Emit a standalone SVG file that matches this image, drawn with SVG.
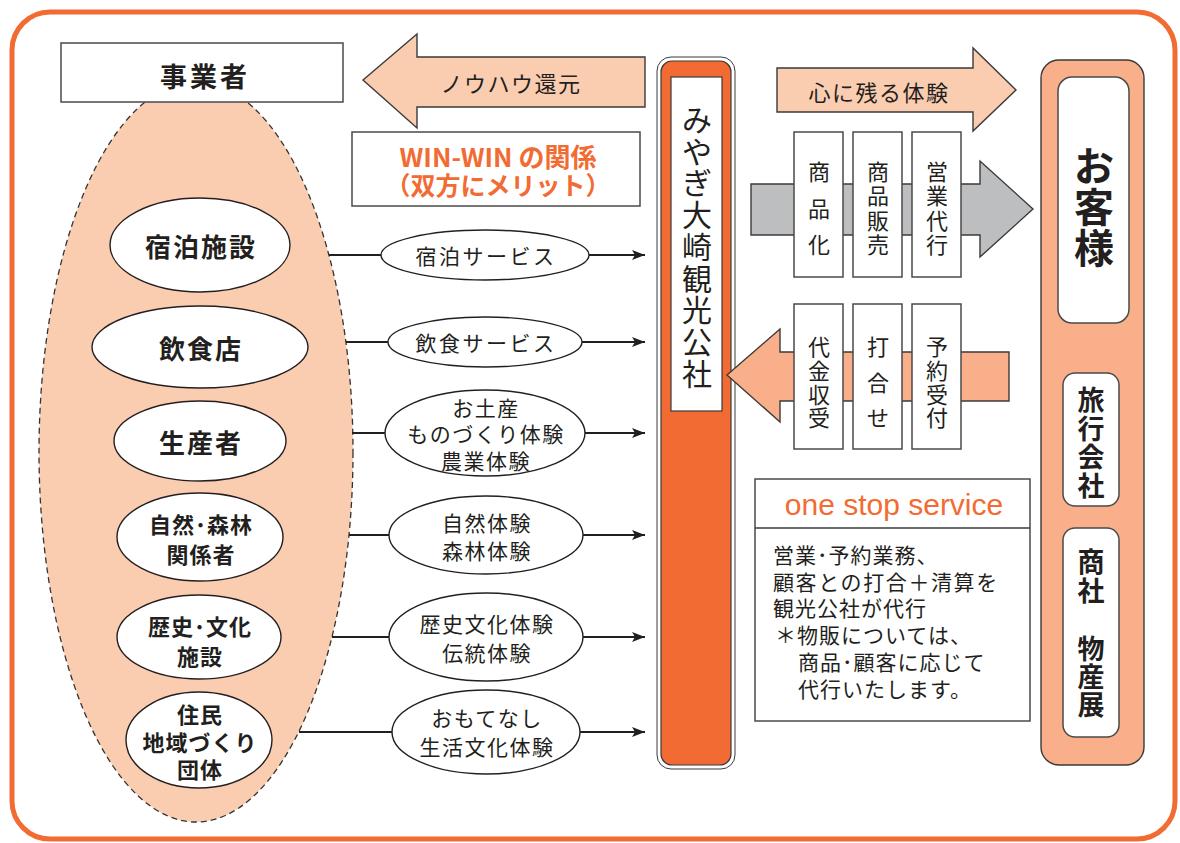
<svg xmlns="http://www.w3.org/2000/svg" width="1180" height="843" viewBox="0 0 1180 843">
<defs>
<style>
text{font-family:"Noto Sans CJK JP","Noto Sans",sans-serif;fill:#231f20;}
.b{font-weight:bold;}
.c{text-anchor:middle;dominant-baseline:central;}
.wbox{fill:#fff;stroke:#4a4a4a;stroke-width:1.5;}
.ell{fill:#fff;stroke:#231f20;stroke-width:1.4;}
.conn{stroke:#231f20;stroke-width:2;fill:none;}
.peach{fill:#fbcdb0;stroke:#3a3a3a;stroke-width:1.4;}
.salmon{fill:#f9b08a;stroke:#3a3a3a;stroke-width:1.4;}
.or{fill:#f26b33;}
.v22{font-size:22px;}
</style>
<marker id="ah" markerUnits="userSpaceOnUse" markerWidth="14" markerHeight="12" refX="13" refY="6" orient="auto">
<path d="M0,1 L13,6 L0,11 L3,6 z" fill="#231f20"/>
</marker>
</defs>
<rect width="1180" height="843" fill="#fff"/>
<rect x="12" y="12" width="1163" height="827" rx="38" fill="none" stroke="#f26b33" stroke-width="5"/>

<g id="jigyosha-group">
<ellipse cx="196" cy="452" rx="157" ry="370" fill="#fbcdb0" stroke="#333" stroke-width="1.3" stroke-dasharray="6 4"/>
</g>
<g id="jigyosha">
<rect class="wbox" x="61" y="43" width="282" height="59"/>
<text class="c b" x="205" y="75" font-size="27" letter-spacing="3">事業者</text>
</g>

<g id="shukuhaku-shisetsu"><ellipse class="ell" cx="200" cy="245" rx="90" ry="47"/><text class="c b" x="201" y="245" font-size="26" letter-spacing="2">宿泊施設</text></g>
<g id="inshokuten"><ellipse class="ell" cx="200" cy="347" rx="108" ry="41"/><text class="c b" x="201" y="347" font-size="26" letter-spacing="2">飲食店</text></g>
<g id="seisansha"><ellipse class="ell" cx="200" cy="441" rx="86" ry="40"/><text class="c b" x="201" y="441" font-size="26" letter-spacing="2">生産者</text></g>
<g id="shizen-shinrin"><ellipse class="ell" cx="200" cy="537" rx="83" ry="44"/><text class="c b" x="201" y="523" font-size="22" letter-spacing="1">自然･森林</text><text class="c b" x="201" y="553" font-size="22" letter-spacing="1">関係者</text></g>
<g id="rekishi-bunka"><ellipse class="ell" cx="199" cy="637" rx="82" ry="42"/><text class="c b" x="200" y="625" font-size="22" letter-spacing="1">歴史･文化</text><text class="c b" x="200" y="655" font-size="22" letter-spacing="1">施設</text></g>
<g id="jumin"><ellipse class="ell" cx="199" cy="740" rx="73" ry="48"/><text class="c b" x="200" y="713" font-size="22" letter-spacing="1">住民</text><text class="c b" x="200" y="741" font-size="22" letter-spacing="1">地域づくり</text><text class="c b" x="200" y="768" font-size="22" letter-spacing="1">団体</text></g>

<g id="connectors">
<line class="conn" x1="329" y1="255" x2="381" y2="255"/><line class="conn" x1="589" y1="255" x2="645" y2="255" marker-end="url(#ah)"/>
<line class="conn" x1="346" y1="342" x2="388" y2="342"/><line class="conn" x1="582" y1="342" x2="645" y2="342" marker-end="url(#ah)"/>
<line class="conn" x1="352" y1="433" x2="385" y2="433"/><line class="conn" x1="585" y1="433" x2="645" y2="433" marker-end="url(#ah)"/>
<line class="conn" x1="349" y1="535" x2="389" y2="535"/><line class="conn" x1="583" y1="535" x2="645" y2="535" marker-end="url(#ah)"/>
<line class="conn" x1="332" y1="637" x2="389" y2="637"/><line class="conn" x1="583" y1="637" x2="645" y2="637" marker-end="url(#ah)"/>
<line class="conn" x1="299" y1="732" x2="392" y2="732"/><line class="conn" x1="580" y1="732" x2="645" y2="732" marker-end="url(#ah)"/>
</g>

<g id="svc-shukuhaku"><ellipse class="ell" cx="485" cy="255" rx="104" ry="25"/><text class="c" x="486" y="255" font-size="21" letter-spacing="2.5">宿泊サービス</text></g>
<g id="svc-inshoku"><ellipse class="ell" cx="485" cy="342" rx="97" ry="25"/><text class="c" x="486" y="342" font-size="21" letter-spacing="2.5">飲食サービス</text></g>
<g id="svc-omiyage"><ellipse class="ell" cx="485" cy="433" rx="100" ry="43"/><text class="c" x="486" y="407" font-size="21" letter-spacing="1.5">お土産</text><text class="c" x="486" y="433" font-size="21" letter-spacing="1.5">ものづくり体験</text><text class="c" x="486" y="460" font-size="21" letter-spacing="1.5">農業体験</text></g>
<g id="svc-shizen"><ellipse class="ell" cx="486" cy="535" rx="97" ry="39"/><text class="c" x="487" y="522" font-size="21" letter-spacing="1.5">自然体験</text><text class="c" x="487" y="550" font-size="21" letter-spacing="1.5">森林体験</text></g>
<g id="svc-rekishi"><ellipse class="ell" cx="486" cy="637" rx="97" ry="44"/><text class="c" x="487" y="623" font-size="21" letter-spacing="1.5">歴史文化体験</text><text class="c" x="487" y="652" font-size="21" letter-spacing="1.5">伝統体験</text></g>
<g id="svc-omotenashi"><ellipse class="ell" cx="486" cy="732" rx="94" ry="42"/><text class="c" x="487" y="717" font-size="21" letter-spacing="1.5">おもてなし</text><text class="c" x="487" y="746" font-size="21" letter-spacing="1.5">生活文化体験</text></g>

<g id="knowhow-arrow">
<polygon class="peach" points="363,80 417,34 417,57 645,57 645,107 417,107 417,128"/>
<text class="c" x="511" y="82" font-size="22" letter-spacing="1.5">ノウハウ還元</text>
</g>

<g id="winwin">
<rect class="wbox" x="352" y="132" width="288" height="74"/>
<text class="c b" x="498" y="155" font-size="26" style="fill:#f26b33">WIN-WIN の関係</text>
<text class="c b" x="498" y="184" font-size="25" style="fill:#f26b33">（双方にメリット）</text>
</g>

<g id="kanko-kosha">
<rect x="657" y="57" width="78" height="712" rx="14" fill="#fff" stroke="#3a3a3a" stroke-width="1"/>
<rect x="661" y="61" width="70" height="704" rx="11" class="or" stroke="#3a3a3a" stroke-width="1.2"/>
<rect x="671" y="77" width="51" height="334" fill="#fff" stroke="#3a3a3a" stroke-width="1.2"/>
<text class="c" x="697" y="118" font-size="30">み</text>
<text class="c" x="697" y="150" font-size="30">や</text>
<text class="c" x="697" y="181" font-size="30">ぎ</text>
<text class="c" x="697" y="213" font-size="30">大</text>
<text class="c" x="697" y="245" font-size="30">崎</text>
<text class="c" x="697" y="277" font-size="30">観</text>
<text class="c" x="697" y="308" font-size="30">光</text>
<text class="c" x="697" y="340" font-size="30">公</text>
<text class="c" x="697" y="372" font-size="30">社</text>
</g>

<g id="kokoro-arrow">
<polygon class="peach" points="777,68 973,68 973,48 1016,90 973,131 973,112 777,112"/>
<text class="c" x="879" y="91" font-size="22" letter-spacing="1.5">心に残る体験</text>
</g>

<g id="gray-arrow">
<polygon points="751,184 980,184 980,161 1033,209 980,257 980,235 751,235" fill="#bdbec0" stroke="#3a3a3a" stroke-width="1.4"/>
</g>
<g id="shohinka"><rect class="wbox" x="794" y="132" width="49" height="145"/>
<text class="c v22" x="819" y="170">商</text><text class="c v22" x="819" y="207">品</text><text class="c v22" x="819" y="243">化</text></g>
<g id="shohin-hanbai"><rect class="wbox" x="853" y="132" width="49" height="145"/>
<text class="c v22" x="878" y="170">商</text><text class="c v22" x="878" y="194">品</text><text class="c v22" x="878" y="219">販</text><text class="c v22" x="878" y="243">売</text></g>
<g id="eigyo-daiko"><rect class="wbox" x="912" y="132" width="49" height="145"/>
<text class="c v22" x="937" y="170">営</text><text class="c v22" x="937" y="194">業</text><text class="c v22" x="937" y="219">代</text><text class="c v22" x="937" y="243">行</text></g>

<g id="return-arrow">
<polygon class="salmon" points="727,375 780,329 780,352 1009,352 1009,401 780,401 780,422"/>
</g>
<g id="daikin"><rect class="wbox" x="794" y="304" width="49" height="145"/>
<text class="c v22" x="819" y="345">代</text><text class="c v22" x="819" y="369">金</text><text class="c v22" x="819" y="393">収</text><text class="c v22" x="819" y="416">受</text></g>
<g id="uchiawase"><rect class="wbox" x="853" y="304" width="49" height="145"/>
<text class="c v22" x="878" y="345">打</text><text class="c v22" x="878" y="381">合</text><text class="c v22" x="878" y="416">せ</text></g>
<g id="yoyaku"><rect class="wbox" x="912" y="304" width="49" height="145"/>
<text class="c v22" x="937" y="345">予</text><text class="c v22" x="937" y="369">約</text><text class="c v22" x="937" y="393">受</text><text class="c v22" x="937" y="416">付</text></g>

<g id="one-stop">
<rect class="wbox" x="755" y="479" width="275" height="242"/>
<line x1="755" y1="528" x2="1030" y2="528" stroke="#3a3a3a" stroke-width="1.5"/>
<text class="c" x="894" y="504" font-size="30" style="fill:#f26b33;font-family:'Liberation Sans',Arial,sans-serif">one stop service</text>
<text x="773" y="563" font-size="21" letter-spacing="1">営業･予約業務、</text>
<text x="773" y="590" font-size="21" letter-spacing="1.6">顧客との打合＋清算を</text>
<text x="773" y="616" font-size="21" letter-spacing="1">観光公社が代行</text>
<text x="775" y="643" font-size="21" letter-spacing="1">＊物販については、</text>
<text x="798" y="670" font-size="21" letter-spacing="1">商品･顧客に応じて</text>
<text x="798" y="697" font-size="21" letter-spacing="1">代行いたします。</text>
</g>

<g id="okyakusama">
<rect class="salmon" x="1041" y="60" width="103" height="705" rx="18"/>
<rect class="wbox" x="1058" y="77" width="71" height="246" rx="14"/>
<text class="c b" x="1094" y="164" font-size="40">お</text>
<text class="c b" x="1094" y="205" font-size="40">客</text>
<text class="c b" x="1094" y="246" font-size="40">様</text>
</g>
<g id="ryoko-gaisha">
<rect class="wbox" x="1063" y="373" width="56" height="133" rx="12"/>
<text class="c b" x="1091" y="398" font-size="27">旅</text>
<text class="c b" x="1091" y="427" font-size="27">行</text>
<text class="c b" x="1091" y="455" font-size="27">会</text>
<text class="c b" x="1091" y="484" font-size="27">社</text>
</g>
<g id="shosha-bussanten">
<rect class="wbox" x="1063" y="528" width="56" height="209" rx="12"/>
<text class="c b" x="1091" y="560" font-size="27">商</text>
<text class="c b" x="1091" y="589" font-size="27">社</text>
<text class="c b" x="1091" y="647" font-size="27">物</text>
<text class="c b" x="1091" y="675" font-size="27">産</text>
<text class="c b" x="1091" y="703" font-size="27">展</text>
</g>
</svg>
